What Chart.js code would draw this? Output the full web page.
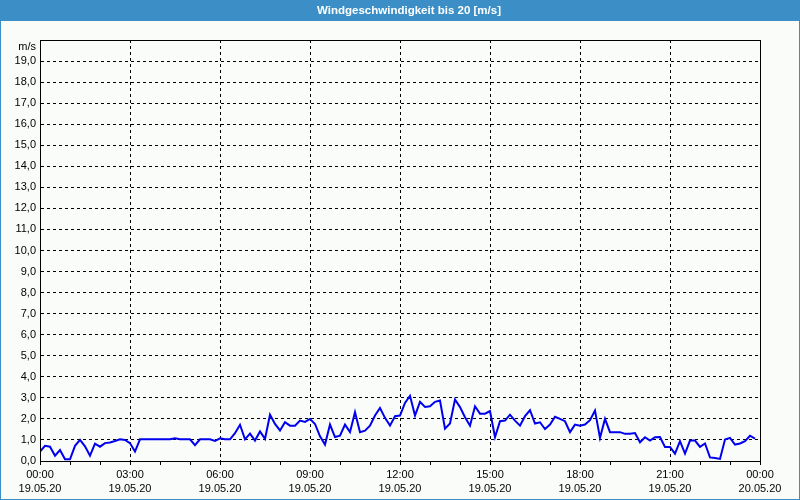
<!DOCTYPE html>
<html><head><meta charset="utf-8">
<script src="https://cdn.jsdelivr.net/npm/chart.js@4/dist/chart.umd.min.js"></script>
<style>html,body{margin:0;padding:0;background:#fafcfa}canvas{display:block}</style>
</head><body>
<canvas id="c" width="800" height="500"></canvas>
<script>
const chartTitle = 'Windgeschwindigkeit bis 20 [m/s]';
const unitLabel = 'm/s';
const hourLabels = ['00:00','03:00','06:00','09:00','12:00','15:00','18:00','21:00','00:00'];
const dateLabels = ['19.05.20','19.05.20','19.05.20','19.05.20','19.05.20','19.05.20','19.05.20','19.05.20','20.05.20'];
const sampleStepMinutes = 10;
// wind speed [m/s], one value every 10 minutes from 00:00 to 23:50
const windSpeed = [
  0.45,0.72,0.68,0.25,0.52,0.08,0.08,0.72,1.00,0.70,0.25,0.82,0.68,0.85,0.88,0.95,1.03,1.00,
  0.85,0.45,1.03,1.03,1.03,1.03,1.03,1.03,1.03,1.08,1.03,1.03,1.03,0.75,1.03,1.03,1.03,0.95,
  1.08,1.03,1.03,1.32,1.72,1.03,1.30,0.97,1.40,1.05,2.20,1.76,1.45,1.84,1.68,1.68,1.92,1.86,
  2.00,1.76,1.17,0.78,1.73,1.14,1.20,1.73,1.37,2.32,1.37,1.44,1.68,2.16,2.52,2.05,1.68,2.13,
  2.16,2.76,3.10,2.16,2.81,2.57,2.60,2.81,2.87,1.54,1.78,2.92,2.56,2.08,1.68,2.60,2.25,2.25,
  2.37,1.13,1.89,1.92,2.20,1.92,1.68,2.13,2.41,1.78,1.84,1.52,1.73,2.10,2.00,1.89,1.37,1.73,
  1.68,1.73,1.94,2.40,1.10,2.00,1.37,1.37,1.37,1.29,1.29,1.33,0.89,1.13,0.97,1.13,1.14,0.67,
  0.67,0.35,0.94,0.35,0.97,0.97,0.67,0.83,0.17,0.14,0.10,1.02,1.10,0.78,0.83,0.94,1.20,1.06
];
const yMin = 0, yMax = 20;
const xMinHours = 0, xMaxHours = 24;

const points = windSpeed.map((v, i) => ({ x: i * sampleStepMinutes / 60, y: v }));
const FONT = '"Liberation Sans", Arial, sans-serif';
const BLUE = '#3c8fc6';

const framePlugin = {
  id: 'frame',
  beforeDraw(chart) {
    const ctx = chart.ctx;
    ctx.save();
    ctx.fillStyle = '#fafcfa';
    ctx.fillRect(0, 0, 800, 500);
    ctx.fillStyle = BLUE;
    ctx.fillRect(0, 0, 800, 21);
    ctx.strokeStyle = BLUE;
    ctx.lineWidth = 1;
    ctx.strokeRect(0.5, 0.5, 799, 499);
    ctx.fillStyle = '#ffffff';
    ctx.font = 'bold 11.5px ' + FONT;
    ctx.textAlign = 'center';
    ctx.textBaseline = 'middle';
    ctx.fillText(chartTitle, 409, 11);
    ctx.restore();
  },
  afterDraw(chart) {
    const { ctx, chartArea: a } = chart;
    ctx.save();
    ctx.strokeStyle = '#000';
    ctx.lineWidth = 1;
    ctx.strokeRect(Math.round(a.left) + 0.5, Math.round(a.top) + 0.5,
      Math.round(a.right - a.left), Math.round(a.bottom - a.top));
    ctx.fillStyle = '#000';
    ctx.font = '11px ' + FONT;
    ctx.textAlign = 'right';
    ctx.textBaseline = 'middle';
    ctx.fillText(unitLabel, a.left - 4, a.top + 7);
    ctx.restore();
  }
};

new Chart(document.getElementById('c'), {
  type: 'line',
  data: {
    datasets: [{
      data: points,
      borderColor: '#0000ee',
      borderWidth: 2,
      pointRadius: 0,
      tension: 0,
      fill: false
    }]
  },
  options: {
    responsive: false,
    animation: false,
    devicePixelRatio: 1,
    layout: { padding: { top: 40, right: 40, bottom: 0, left: 0 } },
    plugins: { legend: { display: false }, title: { display: false }, tooltip: { enabled: false } },
    scales: {
      x: {
        type: 'linear',
        min: xMinHours, max: xMaxHours,
        afterFit(s) { s.height = 39; },
        afterBuildTicks(s) {
          const t = [];
          for (let h = xMinHours; h <= xMaxHours; h++) t.push({ value: h });
          s.ticks = t;
        },
        ticks: {
          autoSkip: false, maxRotation: 0, minRotation: 0,
          padding: 3,
          color: '#000',
          font: { family: FONT, size: 11, lineHeight: 1.3 },
          callback(v) {
            if (v % 3 !== 0) return '';
            const k = v / 3;
            return [hourLabels[k], dateLabels[k]];
          }
        },
        grid: {
          color: c => (c.tick && c.tick.value % 3 === 0 && c.tick.value > xMinHours && c.tick.value < xMaxHours) ? '#000' : 'rgba(0,0,0,0)',
          tickColor: '#000',
          tickLength: 4,
          lineWidth: 1
        },
        border: { display: true, color: '#000', width: 1, dash: [3, 3] }
      },
      y: {
        min: yMin, max: yMax,
        afterFit(s) { s.width = 40; },
        ticks: {
          stepSize: 1,
          padding: 4,
          color: '#000',
          font: { family: FONT, size: 11 },
          callback(v) { return v >= yMax ? '' : v.toFixed(1).replace('.', ','); }
        },
        grid: {
          color: c => (c.tick && c.tick.value > yMin && c.tick.value < yMax) ? '#000' : 'rgba(0,0,0,0)',
          drawTicks: false,
          lineWidth: 1
        },
        border: { display: true, color: '#000', width: 1, dash: [3, 3] }
      }
    }
  },
  plugins: [framePlugin]
});
</script>
</body></html>
